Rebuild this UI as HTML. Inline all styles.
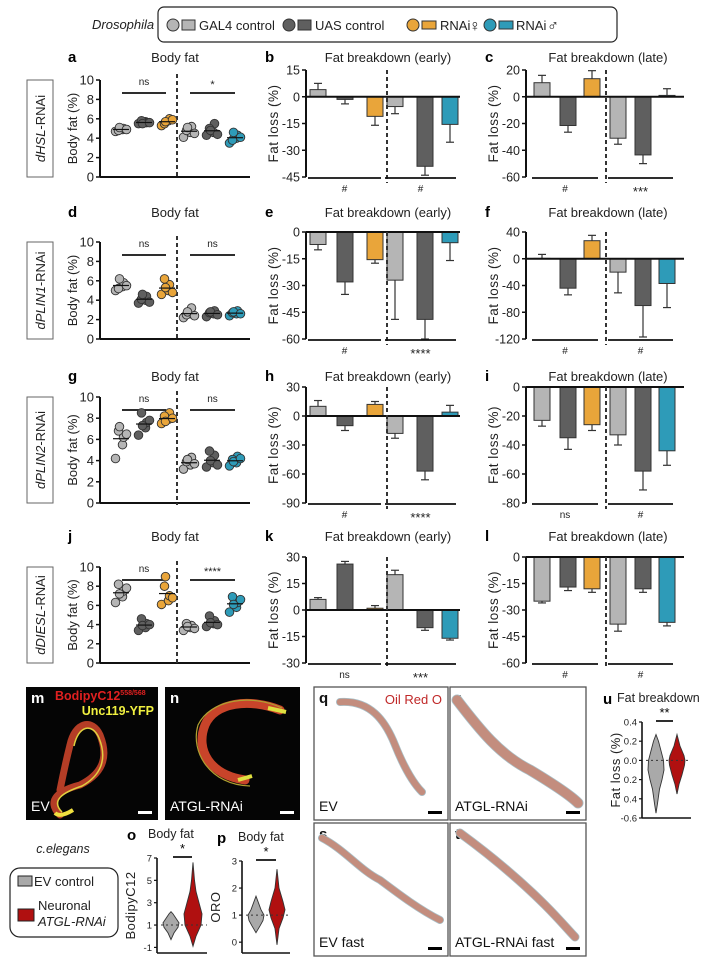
<!DOCTYPE html>
<html><head><meta charset="utf-8">
<style>
html,body{margin:0;padding:0;background:#fff;}
svg{display:block;font-family:"Liberation Sans",Arial,sans-serif;}
</style></head>
<body>
<svg id="fig" width="704" height="960" viewBox="0 0 704 960" xmlns="http://www.w3.org/2000/svg">
  <!-- Legend -->
  <text x="92" y="29" font-size="13" font-style="italic" fill="#222">Drosophila</text>
  <g>
    <rect x="158" y="7" width="459" height="35" rx="6" fill="#fff" stroke="#222" stroke-width="1.2"/>
    <circle cx="173" cy="25" r="6" fill="#b5b5b5" stroke="#333"/><rect x="182" y="20" width="13" height="10" fill="#b5b5b5" stroke="#333"/>
    <text x="199" y="30" font-size="13" fill="#222">GAL4 control</text>
    <circle cx="289" cy="25" r="6" fill="#5f5f5f" stroke="#333"/><rect x="298" y="20" width="13" height="10" fill="#5f5f5f" stroke="#333"/>
    <text x="315" y="30" font-size="13" fill="#222">UAS control</text>
    <circle cx="413" cy="25" r="6" fill="#e9a53a" stroke="#333"/><rect x="422" y="21" width="14" height="8" fill="#e9a53a" stroke="#333"/>
    <text x="440" y="30" font-size="13" fill="#222">RNAi</text>
    <text x="469" y="31" font-size="16" fill="#222">♀</text>
    <circle cx="490" cy="25" r="6" fill="#2e9bb8" stroke="#333"/><rect x="499" y="21" width="14" height="8" fill="#2e9bb8" stroke="#333"/>
    <text x="516" y="30" font-size="13" fill="#222">RNAi</text>
    <text x="547" y="31" font-size="16" fill="#222">♂</text>
  </g>
  <g id="panels"></g>
  <g id="bottom"></g>
</svg>
<script>
const NS="http://www.w3.org/2000/svg";
const C=["#b5b5b5","#5f5f5f","#e9a53a","#b5b5b5","#5f5f5f","#2e9bb8"];
// ---- Data ----
const rowLabels=["dHSL","dPLIN1","dPLIN2","dDIESL"];
const rowLetters=[["a","b","c"],["d","e","f"],["g","h","i"],["j","k","l"]];
// body fat points per group (6 groups per row)
const fatA=[[4.7,4.9,5.0,4.8,5.1,4.9],[5.5,5.7,5.6,5.8,5.5,5.6],[5.3,5.8,6.0,5.5,5.7,5.9],[4.1,4.6,5.2,4.8,5.1,4.5],[4.3,4.6,5.5,5.0,4.8,4.4],[3.5,4.0,4.3,3.8,4.6,4.1]];
const fatD=[[5.0,5.4,5.8,5.2,6.2,5.5],[3.7,4.0,4.4,4.1,4.6,3.8],[4.6,5.0,5.6,6.2,5.3,4.8],[2.2,2.6,3.2,2.5,2.8,2.4],[2.3,2.6,2.9,2.7,2.8,2.5],[2.4,2.6,2.9,2.7,2.8,2.6]];
const fatG=[[4.2,5.5,6.2,6.8,7.2,6.5],[6.4,7.1,7.6,8.5,7.3,7.8],[7.5,7.9,8.5,8.2,7.7,8.0],[3.2,3.6,4.3,3.9,4.1,3.7],[3.4,3.8,4.5,4.9,4.0,3.6],[3.5,3.8,4.4,4.1,3.9,4.2]];
const fatJ=[[6.3,6.9,7.5,8.2,7.2,7.8],[3.4,3.7,4.1,4.6,3.9,4.0],[6.1,6.5,7.0,8.0,9.0,6.8],[3.4,3.7,3.9,4.1,3.8,3.6],[3.8,4.1,4.4,4.9,4.2,4.0],[5.3,5.8,6.3,6.9,6.1,6.6]];
const fatSets=[fatA,fatD,fatG,fatJ];
const fatSig=[["ns","*"],["ns","ns"],["ns","ns"],["ns","****"]];
const fatTicks=[0,2,4,6,8,10];
// bar panels: early
const earlyVals=[[4,-1.5,-11,-5.5,-39,-15.5],[-7,-28,-15.5,-27,-49,-6],[10,-10,12,-18,-57,4],[6,26,1,20,-10,-16]];
const earlyErrs=[[3.5,2.5,5,4,5,10],[3,7,2,22,11,10],[6,5,3,5,9,7],[1,1.5,1.5,2.5,1.5,1]];
const earlyTicks=[[15,0,-15,-30,-45],[0,-15,-30,-45,-60],[30,0,-30,-60,-90],[30,15,0,-15,-30]];
const earlySig=[["#","#"],["#","****"],["#","****"],["ns","***"]];
// late
const lateVals=[[10.5,-21.5,13.5,-31,-43.5,1],[0.5,-44,27,-20,-70,-37],[-23,-35,-26,-33,-58,-44],[-25,-17,-18,-38,-18,-37]];
const lateErrs=[[5.5,5,6,4.5,6.5,5],[6,10,8,31,47,36],[4,8,4,7,13,10],[1,2,2,4,2,2]];
const lateTicks=[[20,0,-20,-40,-60],[40,0,-40,-80,-120],[0,-20,-40,-60,-80],[0,-15,-30,-45,-60]];
const lateSig=[["#","***"],["#","#"],["ns","#"],["#","#"]];
const rows=[{title:58,top:80,bot:177},{title:213,top:242,bot:339},{title:377,top:397,bot:503},{title:537,top:567,bot:663}];

function mk(tag,attrs,parent,text){const e=document.createElementNS(NS,tag);for(const k in attrs)e.setAttribute(k,attrs[k]);if(text!==undefined)e.textContent=text;(parent||document.getElementById('panels')).appendChild(e);return e;}

function bodyFat(r,data,sig,letter,g){
  const row=rows[r];const ax=100,end=250;
  const y=v=>row.bot-(v-0)/(10-0)*(row.bot-row.top);
  const cx=[121,144,167,189,212,235];
  mk('text',{x:68,y:row.title+4,'font-size':15,'font-weight':'bold'},g,letter);
  mk('text',{x:175,y:row.title+4,'font-size':13,'text-anchor':'middle',fill:'#222'},g,'Body fat');
  mk('line',{x1:ax,y1:row.top,x2:ax,y2:row.bot,stroke:'#111','stroke-width':2},g);
  mk('line',{x1:ax,y1:row.bot,x2:end,y2:row.bot,stroke:'#111','stroke-width':2},g);
  fatTicks.forEach(t=>{mk('line',{x1:ax-4,y1:y(t),x2:ax,y2:y(t),stroke:'#111','stroke-width':1.5},g);
    mk('text',{x:ax-6,y:y(t)+4.5,'font-size':13,'text-anchor':'end',fill:'#222'},g,t);});
  const yl=mk('text',{x:0,y:0,'font-size':13,'text-anchor':'middle',fill:'#222',transform:`translate(77,${(row.top+row.bot)/2}) rotate(-90)`},g,'Body fat (%)');
  
  
  mk('line',{x1:177,y1:row.top-6,x2:177,y2:row.bot+2,stroke:'#333','stroke-width':2,'stroke-dasharray':'4,3'},g);
  [[122,166],[190,235]].forEach((s,i)=>{mk('line',{x1:s[0],y1:row.top+13,x2:s[1],y2:row.top+13,stroke:'#111','stroke-width':1.8},g);
    mk('text',{x:(s[0]+s[1])/2,y:row.top+(sig[i]=='ns'?5:8),'font-size':sig[i]=='ns'?10:11,'text-anchor':'middle',fill:'#222'},g,sig[i]);});
  data.forEach((pts,gi)=>{
    let m=0;pts.forEach(v=>m+=v);m/=pts.length;
    pts.forEach((v,i)=>{const dx=((i%3)-1)*4+(i%2?1.5:-1.5);
      const c=mk('circle',{cx:cx[gi]+dx,cy:y(v),r:4.3,fill:C[gi],stroke:'#333','stroke-width':0.9},g);
      
      });
    mk('line',{x1:cx[gi]-8,y1:y(m),x2:cx[gi]+8,y2:y(m),stroke:'#111','stroke-width':1.2},g);
  });
}

function barPanel(r,vals,errs,ticks,sig,letter,title,ax,end,offs,dash,g){
  const row=rows[r];const top=row.top-10,bot=row.bot;
  const vmax=ticks[0],vmin=ticks[ticks.length-1];
  const y=v=>top+(vmax-v)/(vmax-vmin)*(bot-top);
  mk('text',{x:ax-41,y:row.title+4,'font-size':15,'font-weight':'bold'},g,letter);
  mk('text',{x:ax+82,y:row.title+4,'font-size':13,'text-anchor':'middle',fill:'#222'},g,title);
  const bw=16;
  vals.forEach((v,i)=>{const cx=ax+offs[i];const y0=y(0),y1=y(v);
    const e=errs[i];const ye=v>=0?y(v+e):y(v-e);
    mk('line',{x1:cx,y1:y1,x2:cx,y2:ye,stroke:'#333','stroke-width':1.2},g);
    mk('line',{x1:cx-4,y1:ye,x2:cx+4,y2:ye,stroke:'#333','stroke-width':1.2},g);
    const b=mk('rect',{x:cx-bw/2,y:Math.min(y0,y1),width:bw,height:Math.max(0.5,Math.abs(y1-y0)),fill:C[i],stroke:'#333','stroke-width':1},g);
    
    
  });
  mk('line',{x1:ax,y1:top,x2:ax,y2:bot,stroke:'#111','stroke-width':2},g);
  mk('line',{x1:ax,y1:y(0),x2:end,y2:y(0),stroke:'#111','stroke-width':2},g);
  ticks.forEach(t=>{mk('line',{x1:ax-4,y1:y(t),x2:ax,y2:y(t),stroke:'#111','stroke-width':1.5},g);
    mk('text',{x:ax-6,y:y(t)+4.5,'font-size':12.5,'text-anchor':'end',fill:'#222'},g,t);});
  const yl=mk('text',{x:0,y:0,'font-size':13.5,'text-anchor':'middle',fill:'#222','letter-spacing':'0.5',transform:`translate(${ax-28},${(top+bot)/2}) rotate(-90)`},g,'Fat loss (%)');
  
  
  mk('line',{x1:ax+dash,y1:top,x2:ax+dash,y2:bot+6,stroke:'#333','stroke-width':2,'stroke-dasharray':'4,3'},g);
  [[offs[0]+4,offs[2]+4],[offs[3]+4,offs[5]+4]].forEach((s,i)=>{
    mk('line',{x1:ax+s[0]-14,y1:bot+1,x2:ax+s[1]+2,y2:bot+1,stroke:'#111','stroke-width':1.8},g);
    mk('text',{x:ax+(s[0]+s[1])/2-6,y:bot+(sig[i].indexOf('*')>=0?19:15),'font-size':sig[i].indexOf('*')>=0?13:10,'text-anchor':'middle',fill:'#222'},g,sig[i]);});
}

const P=document.getElementById('panels');
for(let r=0;r<4;r++){
  const row=rows[r];
  const g=mk('g',{},P);
  const box=mk('g',{},g);
  
  
  mk('rect',{x:27,y:row.top,width:26,height:row.bot-row.top,fill:'#fff',stroke:'#666','stroke-width':1},box);
  const t=mk('text',{x:0,y:0,'font-size':13,'text-anchor':'middle',fill:'#222',transform:`translate(45,${(row.top+row.bot)/2}) rotate(-90)`},box);
  const ti=mk('tspan',{'font-style':'italic'},t,rowLabels[r]);mk('tspan',{},t,'-RNAi');
  const ga=mk('g',{},g);
  bodyFat(r,fatSets[r],fatSig[r],rowLetters[r][0],ga);
  const gb=mk('g',{},g);
  barPanel(r,earlyVals[r],earlyErrs[r],earlyTicks[r],earlySig[r],rowLetters[r][1],'Fat breakdown (early)',306,460,[12,39,69,89,119,144],81,gb);
  const gc=mk('g',{},g);
  barPanel(r,lateVals[r],lateErrs[r],lateTicks[r],lateSig[r],rowLetters[r][2],'Fat breakdown (late)',526,684,[16,42,66,92,117,141],80,gc);
}

// ---- Bottom section ----
const B=document.getElementById('bottom');
function micro(x,y,w,h,name,letter,label,dark){
  const g=mk('g',{},B);
  mk('rect',{x:x,y:y,width:w,height:h,fill:dark?'#050505':'#fff',stroke:dark?'#000':'#555','stroke-width':dark?0:1.3},g);
  mk('text',{x:x+5,y:y+16,'font-size':15,'font-weight':'bold',fill:dark?'#fff':'#111'},g,letter);
  mk('text',{x:x+5,y:y+h-9,'font-size':14,fill:dark?'#fff':'#111'},g,label);
  mk('rect',{x:x+w-20,y:y+h-9,width:14,height:3,fill:dark?'#fff':'#000'},g);
  return g;
}
let g=micro(26,687,132,133,'image-m-ev','m','EV',true);
mk('path',{d:'M60 815 C45 800 60 790 80 785 C100 775 110 760 100 735 C92 718 75 722 70 745 C65 765 62 780 60 790',fill:'none',stroke:'#c8442a','stroke-width':7,'stroke-linecap':'round',opacity:0.9},g);
mk('path',{d:'M62 812 C50 800 64 792 82 786 C100 776 108 760 99 738 C92 722 78 726 74 746',fill:'none',stroke:'#e0d040','stroke-width':1.5},g);
mk('path',{d:'M55 813 q5 5 18 -3',fill:'none',stroke:'#f0e040','stroke-width':4},g);
const bt=mk('text',{x:55,y:700,'font-size':12.5,'font-weight':'bold',fill:'#e02020'},g,'BodipyC12');
mk('tspan',{'font-size':7,dy:-5},bt,'558/568');
mk('text',{x:154,y:715,'font-size':12.5,'font-weight':'bold',fill:'#f0f040','text-anchor':'end'},g,'Unc119-YFP');
g=micro(165,687,135,133,'image-n-atgl-rnai','n','ATGL-RNAi',true);
mk('path',{d:'M280 710 C250 698 215 702 205 725 C195 750 210 775 245 780',fill:'none',stroke:'#c8442a','stroke-width':9,'stroke-linecap':'round'},g);
mk('path',{d:'M282 708 C250 693 210 700 198 725 C190 752 210 785 250 786',fill:'none',stroke:'#b0a030','stroke-width':1.2},g);
mk('path',{d:'M268 708 l18 4 M238 780 l14 -4',fill:'none',stroke:'#e0e040','stroke-width':4},g);

function worm(g,d,w){mk('path',{d:d,fill:'none',stroke:'#a8c0c8','stroke-width':w,'stroke-linecap':'round'},g);
  mk('path',{d:d,fill:'none',stroke:'#c48a7a','stroke-width':w-1.5,'stroke-linecap':'round','stroke-dasharray':'1000','stroke-dashoffset':0,opacity:0.95},g);}
g=micro(314,687,134,133,'image-q-ev','q','EV',false);
mk('text',{x:442,y:704,'font-size':13,fill:'#c02828','text-anchor':'end'},g,'Oil Red O');
worm(g,'M340 702 C370 700 385 720 395 745 C405 770 415 785 422 792',8);
g=micro(450,687,136,133,'image-r-atgl-rnai','r','ATGL-RNAi',false);
worm(g,'M457 700 C480 730 500 755 530 770 C555 785 570 795 578 803',11);
g=micro(314,823,134,133,'image-s-ev-fast','s','EV fast',false);
worm(g,'M322 838 C345 850 360 870 380 880 C400 895 420 910 440 920',8);
g=micro(450,823,136,133,'image-t-atgl-rnai-fast','t','ATGL-RNAi  fast',false);
worm(g,'M460 833 C490 855 520 880 545 905 C560 920 570 932 575 937',9);

// violins
const uGrayY=[-0.55,-0.45,-0.3,-0.2,-0.1,0.0,0.1,0.2,0.27];
const uGrayW=[0,1.5,3.5,6,8,7.5,5,2.5,0];
const uRedY=[-0.35,-0.25,-0.15,-0.05,0.0,0.05,0.15,0.27];
const uRedW=[0,2,5,7.5,8,7,3,0];
const oGrayY=[-0.3,0.3,0.8,1.2,1.6,2.0,2.2];
const oGrayW=[0,3,7,8,5,2,0];
const oRedY=[-0.9,0,1,2,3,4,5,6.6];
const oRedW=[0,3,8,9,6,3,1.5,0];
const pGrayY=[0.35,0.6,0.8,1.0,1.2,1.5,1.7];
const pGrayW=[0,4,7,8,5,2,0];
const pRedY=[-0.1,0.5,0.9,1.2,1.5,2.0,2.7];
const pRedW=[0,2,6,8,6,2,0];
function violin(g,cx,yf,ys,ws,fill,name){
  let d='';ys.forEach((v,i)=>{d+=(i?'L':'M')+(cx+ws[i])+' '+yf(v)+' ';});
  for(let i=ys.length-1;i>=0;i--)d+='L'+(cx-ws[i])+' '+yf(ys[i])+' ';
  const p=mk('path',{d:d+'Z',fill:fill,stroke:'#333','stroke-width':0.9},g);
  
  
}
function vPanel(name,ax,end,top,bot,vmax,vmin,ticks,tickLabels,ylab,letter,title,lx,tx,sigx,vi){
  const gg=mk('g',{},B);
  const y=v=>top+(vmax-v)/(vmax-vmin)*(bot-top);
  mk('text',{x:lx,y:top-18,'font-size':15,'font-weight':'bold'},gg,letter);
  mk('text',{x:tx,y:top-20,'font-size':12.5,fill:'#222'},gg,title);
  mk('line',{x1:sigx[0],y1:top-1,x2:sigx[1],y2:top-1,stroke:'#111','stroke-width':1.8},gg);
  mk('text',{x:(sigx[0]+sigx[1])/2,y:top-5,'font-size':13,'text-anchor':'middle'},gg,vi.sig);
  mk('line',{x1:ax,y1:top,x2:ax,y2:bot,stroke:'#111','stroke-width':1.6},gg);
  mk('line',{x1:ax,y1:bot,x2:end,y2:bot,stroke:'#111','stroke-width':1.6},gg);
  ticks.forEach((t,i)=>{mk('line',{x1:ax-3,y1:y(t),x2:ax,y2:y(t),stroke:'#111','stroke-width':1.2},gg);
    mk('text',{x:ax-5,y:y(t)+3.5,'font-size':9.5,'text-anchor':'end',fill:'#222'},gg,tickLabels[i]);});
  const yl=mk('text',{x:0,y:0,'font-size':13,'text-anchor':'middle',fill:'#222','letter-spacing':'0.5',transform:`translate(${ax-22},${(top+bot)/2}) rotate(-90)`},gg,ylab);
  
  
  violin(gg,vi.c1,y,vi.gy,vi.gw,'#a9a9a9','violin-control');
  violin(gg,vi.c2,y,vi.ry,vi.rw,'#b01010','violin-atgl-rnai');
  mk('line',{x1:ax+4,y1:y(vi.ref),x2:end,y2:y(vi.ref),stroke:'#333','stroke-width':1,'stroke-dasharray':'2,3'},gg);
}
vPanel('violin-panel-u',642,691,722,818,0.4,-0.6,[0.4,0.2,0,-0.2,-0.4,-0.6],['0.4','0.2','0.0','0.2','0.4','-0.6'],'Fat loss (%)','u','Fat breakdown',603,617,[656,673],{c1:656,c2:677,gy:uGrayY,gw:uGrayW,ry:uRedY,rw:uRedW,ref:0,sig:'**'});
vPanel('violin-panel-o',157,207,858,953,7,-1.5,[7,5,3,1,-1],['7','5','3','1','-1'],'BodipyC12','o','Body fat',127,148,[173,192],{c1:171,c2:193,gy:oGrayY,gw:oGrayW,ry:oRedY,rw:oRedW,ref:1,sig:'*'});
vPanel('violin-panel-p',242,290,861,953,3,-0.4,[3,2,1,0],['3','2','1','0'],'ORO','p','Body fat',217,238,[256,276],{c1:256,c2:277,gy:pGrayY,gw:pGrayW,ry:pRedY,rw:pRedW,ref:1,sig:'*'});
// c.elegans legend
const lg=mk('g',{},B);
mk('text',{x:63,y:853,'font-size':12.5,'font-style':'italic','text-anchor':'middle',fill:'#222'},lg,'c.elegans');
mk('rect',{x:10,y:868,width:108,height:69,rx:10,fill:'#fff',stroke:'#222','stroke-width':1.2},lg);
mk('rect',{x:18,y:876,width:14,height:10,fill:'#a9a9a9',stroke:'#222'},lg);
mk('text',{x:34,y:886,'font-size':13,fill:'#222'},lg,'EV control');
mk('rect',{x:18,y:909,width:16,height:12,fill:'#b01010',stroke:'#222'},lg);
mk('text',{x:38,y:910,'font-size':13,fill:'#222'},lg,'Neuronal');
mk('text',{x:38,y:926,'font-size':13,'font-style':'italic',fill:'#222'},lg,'ATGL-RNAi');
</script>
</body></html>
